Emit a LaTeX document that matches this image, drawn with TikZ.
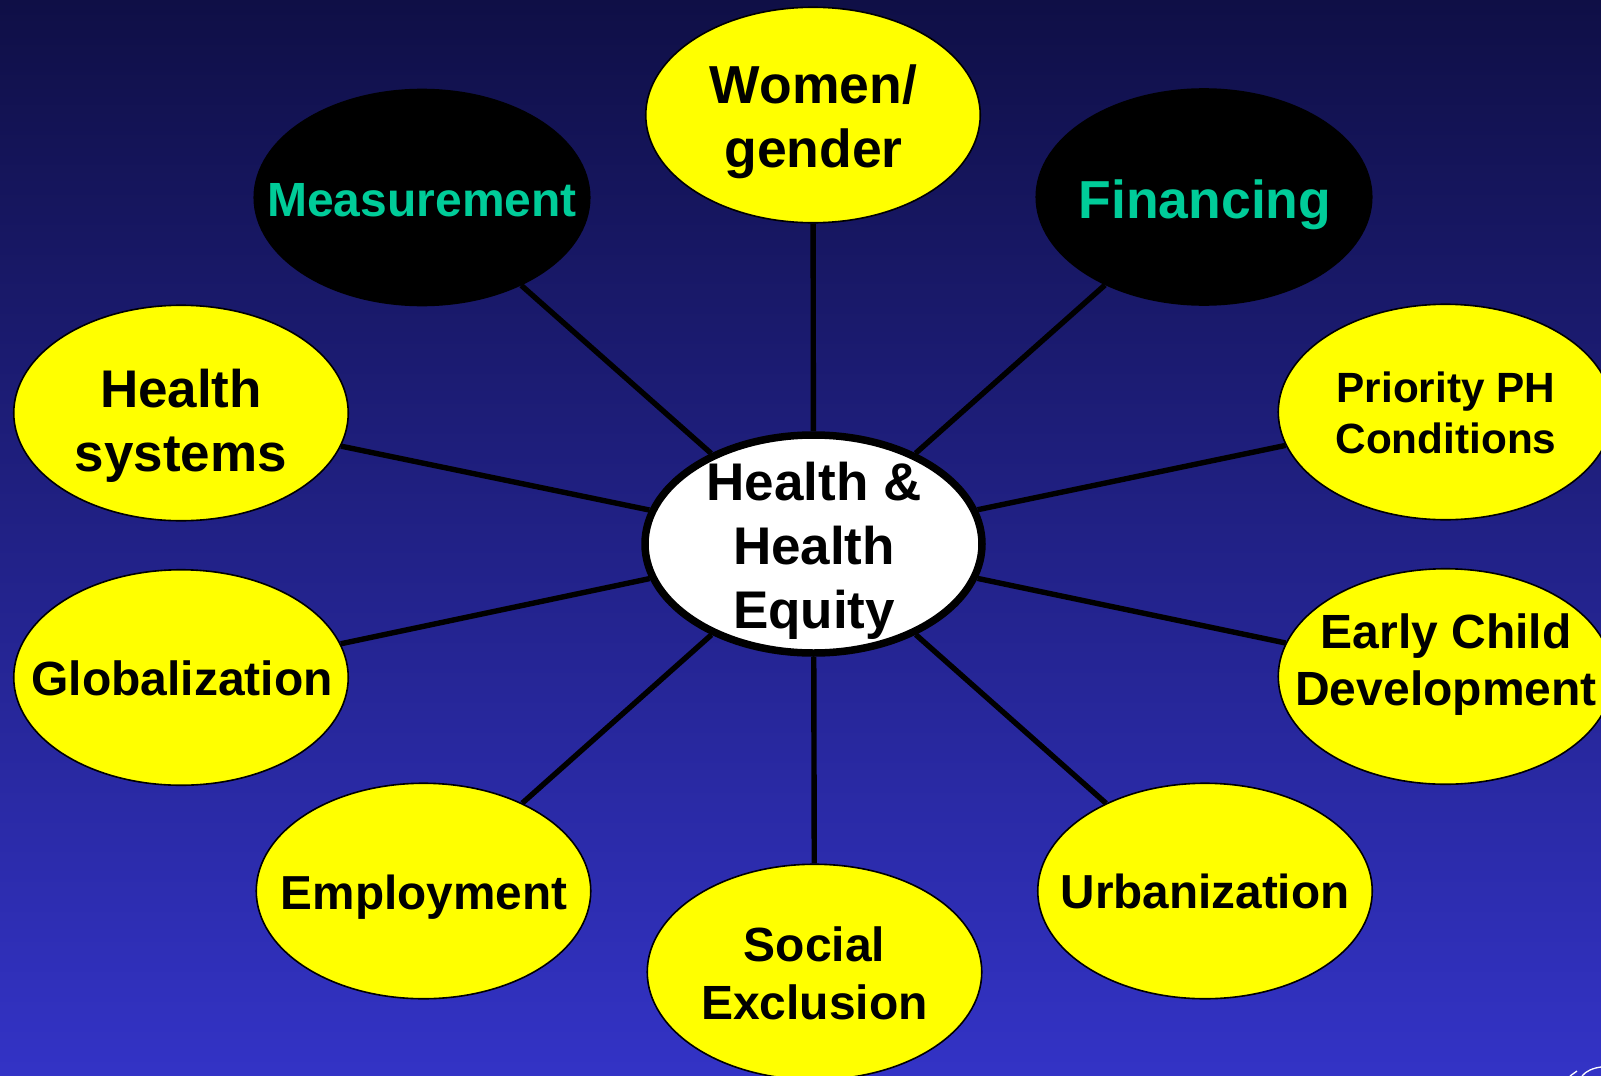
\documentclass[tikz,border=0pt]{standalone}
\usepackage{fontspec}
\setmainfont{Liberation Sans}
\usetikzlibrary{shapes.geometric}
\definecolor{bgtop}{RGB}{15,15,70}
\definecolor{bgmid}{RGB}{37,37,146}
\definecolor{bgbot}{RGB}{51,51,198}
\definecolor{teal}{RGB}{0,204,153}
\definecolor{nodey}{RGB}{255,255,0}
\tikzset{
  oval/.style={ellipse,draw=black,line width=1.6pt,fill=nodey,minimum width=334.5pt,minimum height=215.5pt,inner sep=0pt},
  darkoval/.style={oval,fill=black,minimum width=335.5pt,minimum height=216pt},
  hub/.style={ellipse,draw=black,line width=7.5pt,fill=white,minimum width=337pt,minimum height=218pt,inner sep=0pt},
  spoke/.style={draw=black,line width=5.4pt},
  lab/.style={font=\bfseries\fontsize{#1}{64}\selectfont,align=center,text=black,inner sep=0pt,anchor=center},
  lab/.default=48
}
\begin{document}
\begin{tikzpicture}[x=1pt,y=-1pt]
\useasboundingbox (0,0) rectangle (1601,1076);
\clip (0,0) rectangle (1601,1076);
\shade[top color=bgtop,middle color=bgmid,bottom color=bgbot] (0,0) rectangle (1601,1076);
\node[hub] (c) at (813.5,544) {};
\node[oval] (women) at (813,115) {};
\node[darkoval] (meas) at (422,197.5) {};
\node[darkoval] (fin) at (1204,197) {};
\node[oval] (hs) at (181,413) {};
\node[oval] (glob) at (181,677.5) {};
\node[oval] (emp) at (423.5,891) {};
\node[oval] (soc) at (814.5,972) {};
\node[oval] (urb) at (1205,891) {};
\node[oval] (early) at (1445.5,676.5) {};
\node[oval] (prio) at (1445.5,412) {};
\foreach \n in {women,meas,fin,hs,glob,emp,soc,urb,early,prio}
  \draw[spoke] (c) -- (\n);
\node[lab=53] (tc) at (814,551) {Health \&\\Health\\Equity};
\node[lab=53.5] (tw) at (813.5,122) {Women/\\gender};
\node[lab=48,text=teal] (tm) at (422,200) {Measurement};
\node[lab=53.5,text=teal] (tf) at (1205,204.5) {Financing};
\node[lab=53] (ths) at (181,426) {Health\\systems};
\node[lab=48] (tg) at (182,678) {Globalization};
\node[lab=47.7] (te) at (424,897) {Employment};
\node[lab=48,font=\bfseries\fontsize{48}{58}\selectfont] (ts) at (814.5,973) {Social\\Exclusion};
\node[lab=47.7] (tu) at (1205,891) {Urbanization};
\node[lab=48,font=\bfseries\fontsize{48}{57}\selectfont] (tec) at (1446,665) {Early Child\\Development};
\node[lab=42.3,font=\bfseries\fontsize{42.3}{51}\selectfont] (tp) at (1446,413) {Priority PH\\Conditions};
\draw[white,line width=1.3pt] (1582,1076) .. controls (1586,1071) and (1593,1068) .. (1601,1067);
\draw[white,line width=1.3pt] (1570,1076) -- (1577,1071);
\end{tikzpicture}
\end{document}
